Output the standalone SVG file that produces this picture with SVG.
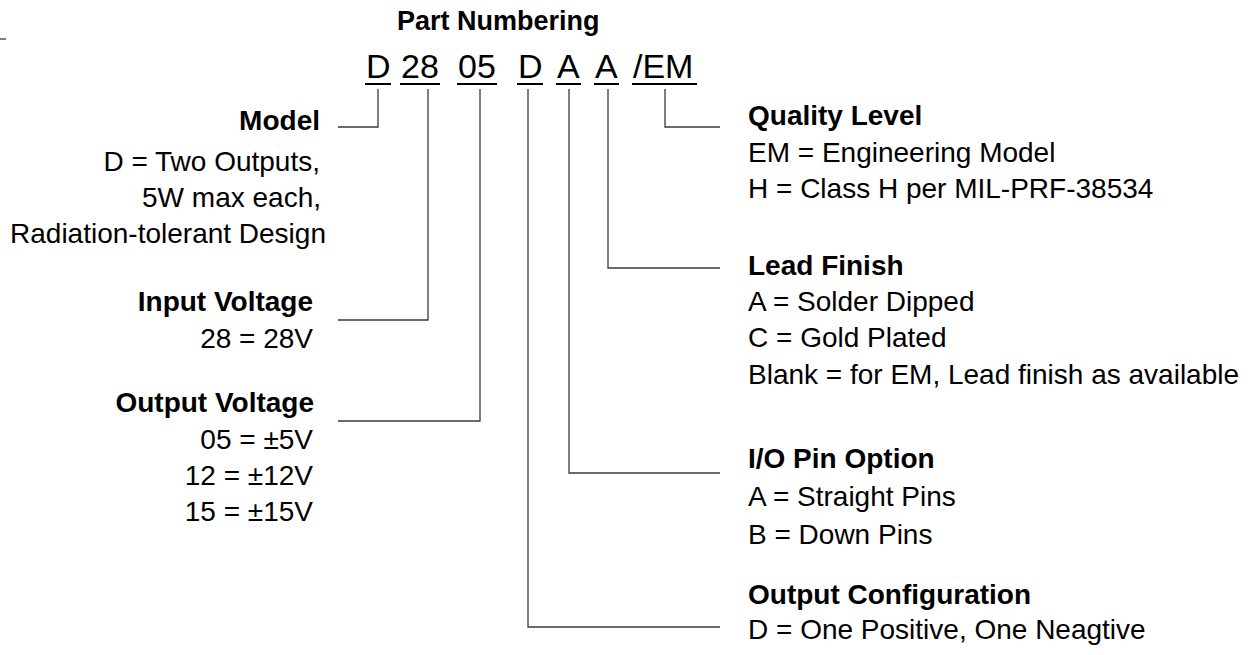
<svg xmlns="http://www.w3.org/2000/svg" width="1249" height="655" viewBox="0 0 1249 655">
<style>
text{font-family:"Liberation Sans",Arial,Helvetica,sans-serif;fill:#000}
.t{font-size:27px;font-weight:bold}
.pn{font-size:34px}
.h{font-size:28px;font-weight:bold}
.b{font-size:28px}
.l{text-anchor:end}
.u{stroke:#000;stroke-width:2}
.c{fill:none;stroke:#3a3a3a;stroke-width:1.3}
</style>
<rect width="1249" height="655" fill="#fff"/>
<line x1="0" y1="39" x2="6" y2="39" class="c"/>
<g id="title"><text class="t" x="397" y="30">Part Numbering</text></g>
<g id="partnumber">
<text class="pn" x="366" y="78">D</text><line class="u" x1="365" y1="84" x2="391" y2="84"/>
<text class="pn" x="401" y="78">28</text><line class="u" x1="400" y1="84" x2="440" y2="84"/>
<text class="pn" x="458" y="78">05</text><line class="u" x1="457" y1="84" x2="497" y2="84"/>
<text class="pn" x="518" y="78">D</text><line class="u" x1="517" y1="84" x2="543" y2="84"/>
<text class="pn" x="557" y="78">A</text><line class="u" x1="556" y1="84" x2="581" y2="84"/>
<text class="pn" x="595" y="78">A</text><line class="u" x1="594" y1="84" x2="619" y2="84"/>
<text class="pn" x="633" y="78">/EM</text><line class="u" x1="632" y1="84" x2="697" y2="84"/>
</g>
<g id="connectors">
<path class="c" d="M378,89V127H338"/>
<path class="c" d="M428,89V320H338"/>
<path class="c" d="M480,89V421H338"/>
<path class="c" d="M528,89V627H720"/>
<path class="c" d="M569,89V473H720"/>
<path class="c" d="M608,89V268H720"/>
<path class="c" d="M665,89V127H720"/>
</g>
<g id="model">
<text class="h l" x="320" y="130">Model</text>
<text class="b l" x="320" y="171">D = Two Outputs,</text>
<text class="b l" x="321" y="207">5W max each,</text>
<text class="b l" x="326" y="243">Radiation-tolerant Design</text>
</g>
<g id="input-voltage">
<text class="h l" x="313" y="311">Input Voltage</text>
<text class="b l" x="313" y="348">28 = 28V</text>
</g>
<g id="output-voltage">
<text class="h l" x="314" y="412">Output Voltage</text>
<text class="b l" x="313" y="449">05 = ±5V</text>
<text class="b l" x="313" y="485">12 = ±12V</text>
<text class="b l" x="313" y="521">15 = ±15V</text>
</g>
<g id="quality-level">
<text class="h" x="748" y="125">Quality Level</text>
<text class="b" x="748" y="162">EM = Engineering Model</text>
<text class="b" x="748" y="198">H = Class H per MIL-PRF-38534</text>
</g>
<g id="lead-finish">
<text class="h" x="748" y="275">Lead Finish</text>
<text class="b" x="748" y="311">A = Solder Dipped</text>
<text class="b" x="748" y="347">C = Gold Plated</text>
<text class="b" x="748" y="384">Blank = for EM, Lead finish as available</text>
</g>
<g id="io-pin-option">
<text class="h" x="748" y="468">I/O Pin Option</text>
<text class="b" x="748" y="506">A = Straight Pins</text>
<text class="b" x="748" y="544">B = Down Pins</text>
</g>
<g id="output-configuration">
<text class="h" x="748" y="604">Output Configuration</text>
<text class="b" x="748" y="639">D = One Positive, One Neagtive</text>
</g>
</svg>
